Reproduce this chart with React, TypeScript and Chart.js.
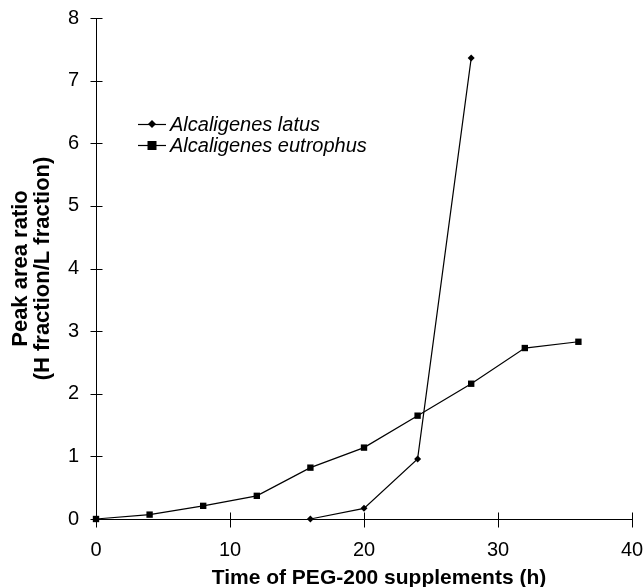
import React, { useEffect, useRef } from "react";
import { Chart, registerables } from "chart.js";

Chart.register(...registerables);

const seriesNames = ["Alcaligenes latus", "Alcaligenes eutrophus"];
const latusX = [16, 20, 24, 28];
const latusY = [0, 0.17, 0.96, 7.36];
const eutrophusX = [0, 4, 8, 12, 16, 20, 24, 28, 32, 36];
const eutrophusY = [0, 0.07, 0.21, 0.37, 0.82, 1.14, 1.65, 2.16, 2.73, 2.83];
const xTitle = "Time of PEG-200 supplements (h)";
const yTitle = ["Peak area ratio", "(H fraction/L fraction)"];

const FONT = "'Liberation Sans', Arial, sans-serif";

const crossTicks = {
  id: "crossTicks",
  afterDraw(chart: any) {
    const ctx = chart.ctx;
    const xs = chart.scales.x;
    const ys = chart.scales.y;
    ctx.save();
    ctx.strokeStyle = "#000";
    ctx.lineWidth = 1;
    ctx.beginPath();
    ys.ticks.forEach((t: any) => {
      const py = Math.round(ys.getPixelForValue(t.value)) + 0.5;
      const px = Math.round(xs.left) + 0.5;
      ctx.moveTo(px - 6, py);
      ctx.lineTo(px + 6, py);
    });
    xs.ticks.forEach((t: any) => {
      const px = Math.round(xs.getPixelForValue(t.value)) + 0.5;
      const py = Math.round(ys.bottom) + 0.5;
      ctx.moveTo(px, py - 7);
      ctx.lineTo(px, py + 8);
    });
    ctx.stroke();
    // x axis title, centred slightly right of the plot centre as in the reference
    ctx.fillStyle = "#000";
    ctx.font = `bold 21px ${FONT}`;
    ctx.textAlign = "center";
    ctx.textBaseline = "middle";
    ctx.fillText(xTitle, (xs.left + xs.right) / 2 + 15, 578);
    ctx.restore();
  },
};

const insideLegend = {
  id: "insideLegend",
  afterDraw(chart: any) {
    const ctx = chart.ctx;
    const x0 = 138;
    const y0 = 124;
    const gap = 21;
    ctx.save();
    chart.data.datasets.forEach((ds: any, i: number) => {
      const y = y0 + i * gap;
      ctx.strokeStyle = "#000";
      ctx.fillStyle = "#000";
      ctx.lineWidth = 1.2;
      ctx.beginPath();
      ctx.moveTo(x0, y + 0.5);
      ctx.lineTo(x0 + 28, y + 0.5);
      ctx.stroke();
      const cx = x0 + 14;
      ctx.beginPath();
      if (ds.pointStyle === "rect") {
        const r = ds.pointRadius;
        ctx.rect(cx - r, y - r + 0.5, 2 * r, 2 * r);
      } else {
        const r = ds.pointRadius + 0.5;
        ctx.moveTo(cx, y - r);
        ctx.lineTo(cx + r, y);
        ctx.lineTo(cx, y + r);
        ctx.lineTo(cx - r, y);
        ctx.closePath();
      }
      ctx.fill();
      ctx.font = `italic 20px ${FONT}`;
      ctx.textBaseline = "middle";
      ctx.textAlign = "left";
      ctx.fillText(ds.label, x0 + 32, y + 1);
    });
    ctx.restore();
  },
};

export default function App() {
  const ref = useRef<HTMLCanvasElement | null>(null);
  useEffect(() => {
    if (!ref.current) return;
    const chart = new Chart(ref.current, {
      type: "line",
      data: {
        datasets: [
          {
            label: seriesNames[0],
            data: latusX.map((x, i) => ({ x, y: latusY[i] })),
            borderColor: "#000",
            backgroundColor: "#000",
            borderWidth: 1.2,
            pointStyle: "rectRot",
            pointRadius: 3.5,
            pointBorderWidth: 0,
            tension: 0,
            clip: false,
          },
          {
            label: seriesNames[1],
            data: eutrophusX.map((x, i) => ({ x, y: eutrophusY[i] })),
            borderColor: "#000",
            backgroundColor: "#000",
            borderWidth: 1.2,
            pointStyle: "rect",
            pointRadius: 4.5,
            pointBorderWidth: 0,
            tension: 0,
            clip: false,
          },
        ] as any,
      },
      options: {
        animation: false,
        responsive: false,
        layout: { padding: { top: 18, right: 12, left: 0, bottom: 0 } },
        plugins: { legend: { display: false }, tooltip: { enabled: false } },
        scales: {
          x: {
            type: "linear",
            min: 0,
            max: 40,
            ticks: {
              stepSize: 10,
              color: "#000",
              font: { family: FONT, size: 20 },
              padding: 11,
              maxRotation: 0,
            },
            grid: { display: false },
            border: { display: true, color: "#000", width: 1 },
            afterFit: (s: any) => {
              s.height = 68;
              s.paddingRight = 0;
              s.paddingLeft = 0;
            },
          },
          y: {
            type: "linear",
            min: 0,
            max: 8,
            ticks: {
              stepSize: 1,
              color: "#000",
              font: { family: FONT, size: 20 },
              padding: 9,
            },
            grid: { display: false },
            border: { display: true, color: "#000", width: 1 },
            title: {
              display: true,
              text: yTitle,
              color: "#000",
              font: { family: FONT, size: 22, weight: "bold", lineHeight: 1.0 },
              padding: { top: 10, bottom: 0 },
            },
            afterFit: (s: any) => {
              s.width = 96;
              s.paddingTop = 0;
              s.paddingBottom = 0;
            },
          },
        },
      } as any,
      plugins: [crossTicks, insideLegend],
    });
    return () => chart.destroy();
  }, []);
  return (
    <div style={{ position: "fixed", left: 0, top: 0, width: 644, height: 587, background: "#fff" }}>
      <canvas ref={ref} width={644} height={587} style={{ display: "block" }} />
    </div>
  );
}
